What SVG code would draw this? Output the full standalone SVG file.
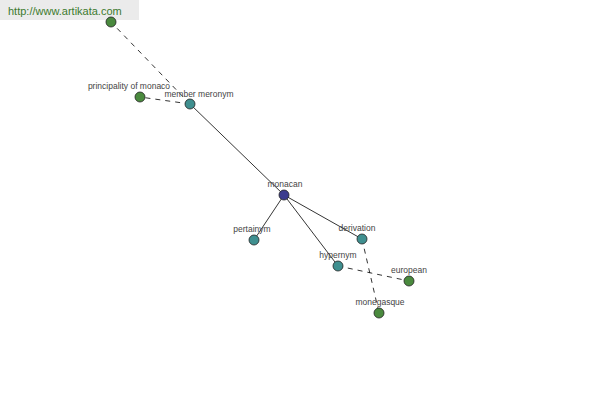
<svg xmlns="http://www.w3.org/2000/svg" width="600" height="400" viewBox="0 0 600 400">
<style>
.lbl{font-family:"Liberation Sans",Arial,sans-serif;font-size:8.5px;fill:#444;text-anchor:middle}
.solid{stroke:#000;stroke-width:0.8;fill:none}
.dash{stroke:#000;stroke-width:0.8;fill:none;stroke-dasharray:5,5}
.n{stroke:#222;stroke-width:0.8}
.teal{fill:#3f8f8f}
.green{fill:#4a8a3e}
.blue{fill:#3c3c8e}
</style>
<rect x="0" y="0" width="600" height="400" fill="#fff"/>
<rect x="0" y="0" width="139" height="20" fill="#ebebeb"/>
<text x="8" y="15" style="font-family:'Liberation Sans',Arial,sans-serif;font-size:11px;fill:#3c7a2e">http://www.artikata.com</text>
<g id="connectors">
<line class="solid" x1="284" y1="195" x2="190" y2="104"/>
<line class="dash" x1="190" y1="104" x2="111" y2="22"/>
<line class="dash" x1="190" y1="104" x2="140" y2="97"/>
<line class="solid" x1="284" y1="195" x2="254" y2="240"/>
<line class="solid" x1="284" y1="195" x2="362" y2="239"/>
<line class="solid" x1="284" y1="195" x2="338" y2="266"/>
<line class="dash" x1="362" y1="239" x2="379" y2="313"/>
<line class="dash" x1="338" y1="266" x2="409" y2="281"/>
</g>
<g id="node-top"><circle class="n green" cx="111" cy="22" r="5"/></g>
<g id="node-principality"><circle class="n green" cx="140" cy="97" r="5"/><text class="lbl" x="129" y="89">principality of monaco</text></g>
<g id="node-member-meronym"><circle class="n teal" cx="190" cy="104" r="5"/><text class="lbl" x="199" y="97">member meronym</text></g>
<g id="node-monacan"><circle class="n blue" cx="284" cy="195" r="5"/><text class="lbl" x="285" y="187">monacan</text></g>
<g id="node-pertainym"><circle class="n teal" cx="254" cy="240" r="5"/><text class="lbl" x="252" y="232">pertainym</text></g>
<g id="node-derivation"><circle class="n teal" cx="362" cy="239" r="5"/><text class="lbl" x="357" y="231">derivation</text></g>
<g id="node-hypernym"><circle class="n teal" cx="338" cy="266" r="5"/><text class="lbl" x="338" y="258">hypernym</text></g>
<g id="node-european"><circle class="n green" cx="409" cy="281" r="5"/><text class="lbl" x="409" y="273">european</text></g>
<g id="node-monegasque"><circle class="n green" cx="379" cy="313" r="5"/><text class="lbl" x="380" y="305">monegasque</text></g>
</svg>
